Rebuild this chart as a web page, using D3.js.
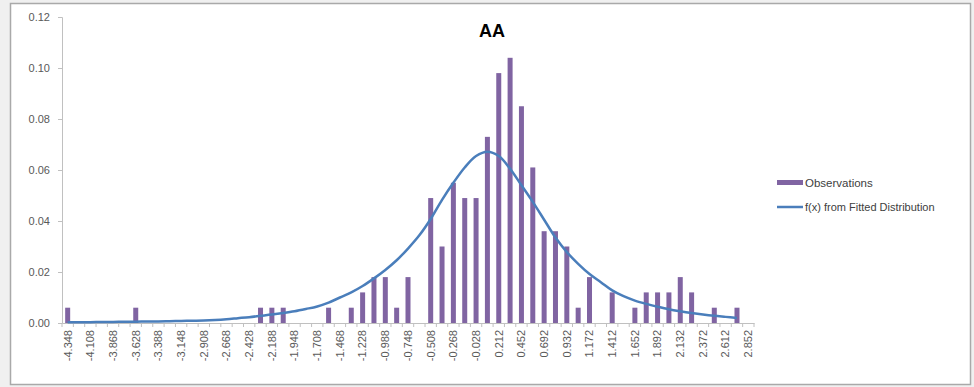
<!DOCTYPE html>
<html>
<head>
<meta charset="utf-8">
<script src="https://cdn.jsdelivr.net/npm/d3@7"></script>
<style>
  body { margin: 0; background: #f0f0f0; }
  svg { display: block; font-family: "Liberation Sans", Arial, sans-serif; }
</style>
</head>
<body>
<div id="chart"></div>
<script>
const width = 974;
const height = 387;

// bin labels (x categories)
const categories = [-4.348, -4.228, -4.108, -3.988, -3.868, -3.748, -3.628, -3.508, -3.388, -3.268,
  -3.148, -3.028, -2.908, -2.788, -2.668, -2.548, -2.428, -2.308, -2.188, -2.068,
  -1.948, -1.828, -1.708, -1.588, -1.468, -1.348, -1.228, -1.108, -0.988, -0.868,
  -0.748, -0.628, -0.508, -0.388, -0.268, -0.148, -0.028, 0.092, 0.212, 0.332,
  0.452, 0.572, 0.692, 0.812, 0.932, 1.052, 1.172, 1.292, 1.412, 1.532,
  1.652, 1.772, 1.892, 2.012, 2.132, 2.252, 2.372, 2.492, 2.612, 2.732, 2.852];

// observed relative frequencies
const observations = [0.006, 0, 0, 0, 0, 0, 0.006, 0, 0, 0,
  0, 0, 0, 0, 0, 0, 0, 0.006, 0.006, 0.006,
  0, 0, 0, 0.006, 0, 0.006, 0.012, 0.018, 0.018, 0.006,
  0.018, 0, 0.049, 0.030, 0.055, 0.049, 0.049, 0.073, 0.098, 0.104,
  0.085, 0.061, 0.036, 0.036, 0.030, 0.006, 0.018, 0, 0.012, 0,
  0.006, 0.012, 0.012, 0.012, 0.018, 0.012, 0, 0.006, 0, 0.006, 0];

// f(x) from fitted distribution, one value per bin (last bin has none)
const fitted = [0.0003, 0.0003, 0.0003, 0.0004, 0.0004, 0.0005, 0.0005, 0.0006, 0.0006, 0.0007,
  0.0008, 0.0009, 0.0010, 0.0012, 0.0015, 0.0019, 0.0023, 0.0028, 0.0033, 0.0039,
  0.0046, 0.0055, 0.0065, 0.0080, 0.0100, 0.0120, 0.0145, 0.0175, 0.0208, 0.0246,
  0.0292, 0.0344, 0.0408, 0.0483, 0.0550, 0.0610, 0.0655, 0.0672, 0.0655, 0.0605,
  0.0540, 0.0475, 0.0405, 0.0335, 0.0278, 0.0232, 0.0192, 0.0160, 0.0128, 0.0105,
  0.0088, 0.0075, 0.0064, 0.0054, 0.0046, 0.0039, 0.0033, 0.0028, 0.0024, 0.0020, null];

const yTicks = [0, 0.02, 0.04, 0.06, 0.08, 0.10, 0.12];

const margin = { left: 62, top: 17 };
const plotRight = 754;
const plotBottom = 323;

const axisColor = "#c0c0c0";
const textColor = "#595959";
const barColor = "#8064a2";
const lineColor = "#4a7ebb";

var svg = d3.select("#chart").append("svg")
  .attr("width", width)
  .attr("height", height);

// chart frame
svg.append("rect")
  .attr("x", 10.5).attr("y", 3.5)
  .attr("width", 960).attr("height", 381)
  .attr("fill", "#fff")
  .attr("stroke", "#a9a9a9")
  .attr("stroke-width", 1.5);

var x = d3.scaleBand()
  .domain(categories)
  .range([margin.left, plotRight])
  .padding(0);

var y = d3.scaleLinear()
  .domain([0, 0.12])
  .range([plotBottom, margin.top]);

// y axis
var yAxis = svg.append("g")
  .attr("transform", "translate(" + margin.left + ",0)")
  .call(d3.axisLeft(y).tickValues(yTicks).tickSize(4).tickPadding(8)
    .tickFormat((d) => d.toFixed(2)));
yAxis.select(".domain").attr("stroke", axisColor);
yAxis.selectAll(".tick line").attr("stroke", axisColor);
yAxis.selectAll("text").attr("fill", textColor).style("font-size", "11px");

// bars
svg.append("g").selectAll("rect")
  .data(categories)
  .enter()
  .append("rect")
  .attr("x", (d) => x(d) + x.bandwidth() / 2 - 2.5)
  .attr("width", 5)
  .attr("y", (d, i) => y(observations[i]))
  .attr("height", (d, i) => y(0) - y(observations[i]))
  .attr("fill", barColor);

// x axis, labels on every other bin
var xAxis = svg.append("g")
  .attr("transform", "translate(0," + plotBottom + ")")
  .call(d3.axisBottom(x)
    .tickValues(categories.filter((d, i) => i % 2 === 0))
    .tickSize(0)
    .tickFormat((d) => d.toFixed(3)));
xAxis.select(".domain").attr("stroke", axisColor);
xAxis.selectAll("text")
  .attr("fill", textColor)
  .style("font-size", "11px")
  .attr("y", 0)
  .attr("x", -7)
  .attr("dy", "0.35em")
  .attr("transform", "rotate(-90)")
  .style("text-anchor", "end");

// tick marks between bins
svg.append("g").selectAll("line")
  .data(categories.concat(["end"]))
  .enter()
  .append("line")
  .attr("x1", (d) => d === "end" ? plotRight : x(d))
  .attr("x2", (d) => d === "end" ? plotRight : x(d))
  .attr("y1", plotBottom)
  .attr("y2", plotBottom + 4)
  .attr("stroke", axisColor);

// fitted curve
var line = d3.line()
  .defined((d) => d !== null)
  .x((d, i) => x(categories[i]) + x.bandwidth() / 2)
  .y((d) => y(d))
  .curve(d3.curveCatmullRom);

svg.append("path")
  .datum(fitted)
  .attr("d", line)
  .attr("fill", "none")
  .attr("stroke", lineColor)
  .attr("stroke-width", 2.5);

// title
svg.append("text")
  .attr("x", 492)
  .attr("y", 37)
  .attr("text-anchor", "middle")
  .style("font-size", "18px")
  .style("font-weight", "bold")
  .attr("fill", "#000")
  .text("AA");

// legend
var legend = svg.append("g").attr("transform", "translate(777,0)");
legend.append("rect")
  .attr("x", 0).attr("y", 180)
  .attr("width", 26).attr("height", 5)
  .attr("fill", barColor);
legend.append("text")
  .attr("x", 28).attr("y", 183)
  .attr("dy", "0.35em")
  .attr("fill", "#404040")
  .style("font-size", "11.5px")
  .text("Observations");
legend.append("line")
  .attr("x1", 0).attr("x2", 26)
  .attr("y1", 207).attr("y2", 207)
  .attr("stroke", lineColor)
  .attr("stroke-width", 2.5);
legend.append("text")
  .attr("x", 28).attr("y", 207)
  .attr("dy", "0.35em")
  .attr("fill", "#404040")
  .style("font-size", "11px")
  .text("f(x) from Fitted Distribution");
</script>
</body>
</html>
